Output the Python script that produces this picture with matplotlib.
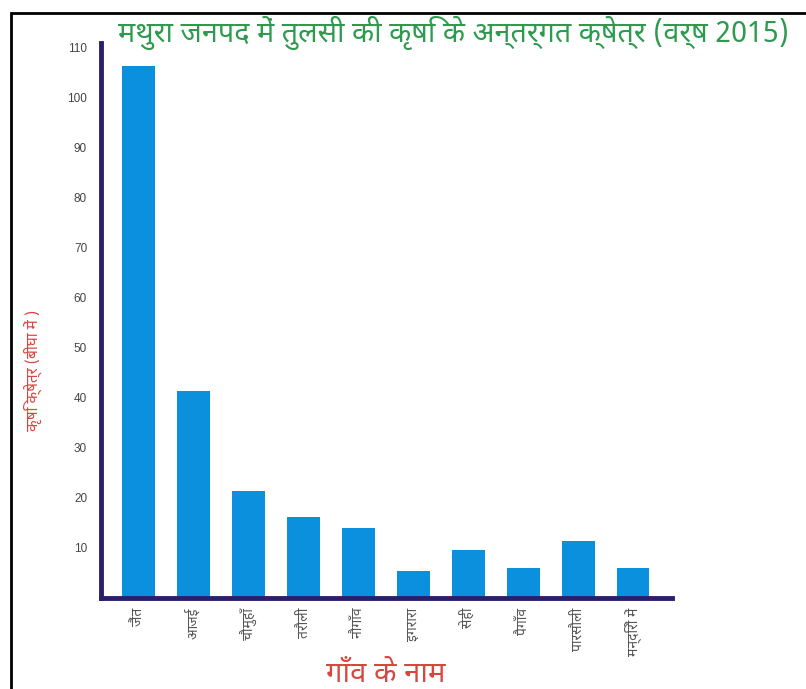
import matplotlib.pyplot as plt
from matplotlib.patches import Rectangle

# गाँव और क्षेत्र (बीघा में)
gaon = ['जैंत', 'आजई', 'चौमुहाँ', 'तरौली', 'नौगाँव', 'इगरारा', 'सेही', 'पैगाँव', 'पारसौली', 'मन्दिरों में']
kshetra = [106.5, 41.5, 21.5, 16.3, 14.0, 5.4, 9.6, 6.0, 11.4, 6.0]
yticks = [10, 20, 30, 40, 50, 60, 70, 80, 90, 100, 110]

fonts = ['Noto Sans Devanagari', 'Lohit Devanagari', 'Mukta', 'Noto Sans', 'DejaVu Sans']
plt.rcParams['font.family'] = fonts

W, H = 806, 689
fig = plt.figure(figsize=(W / 100, H / 100), dpi=100)

# बाहरी काला फ्रेम
fig.patches.append(Rectangle((11 / W, -0.1), 1.2, 1.1 - 13 / H, transform=fig.transFigure,
                             fill=False, edgecolor='black', linewidth=2))

ax = fig.add_axes([101 / W, 1 - 598 / H, (672 - 101) / W, 555 / H])
x = range(len(gaon))
ax.bar(x, kshetra, width=0.6, color='#0a90dc')

ax.set_xlim(-0.69, 9.71)
ax.set_ylim(0, 111)
ax.set_yticks(yticks)
ax.set_yticklabels([str(v) for v in yticks], family='Liberation Sans', fontsize=8.5, color='#444444')
ax.set_xticks(list(x))
ax.set_xticklabels(gaon, rotation=90, fontsize=10, color='#555555')
ax.tick_params(axis='y', length=0, pad=10)
ax.tick_params(axis='x', length=0, pad=7)

for s in ['top', 'right']:
    ax.spines[s].set_visible(False)
for s in ['left', 'bottom']:
    ax.spines[s].set_color('#2a1f6b')
    ax.spines[s].set_linewidth(3.5)

fig.text(118 / W, 1 - 33 / H, 'मथुरा जनपद में तुलसी की कृषि के अन्तर्गत क्षेत्र (वर्ष 2015)',
         color='#2e9a4e', fontsize=20.7, ha='left', va='center')
fig.text(33 / W, 1 - 370 / H, 'कृषि क्षेत्र (बीघा में )', color='#d9463f', fontsize=11,
         rotation=90, ha='center', va='center')
fig.text(386 / W, 1 - 675 / H, 'गाँव के नाम', color='#d9463f', fontsize=21,
         ha='center', va='center')

fig.savefig('out.png', dpi=100)
